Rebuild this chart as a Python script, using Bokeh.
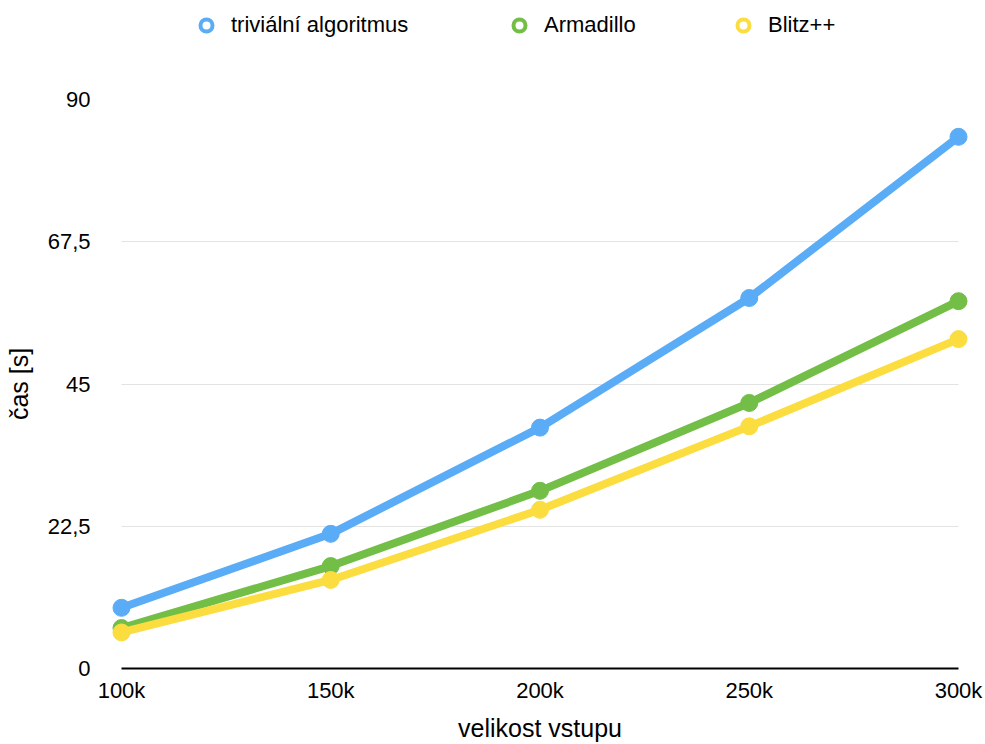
from bokeh.plotting import figure
from bokeh.layouts import column
from bokeh.models import Range1d, FixedTicker, Legend, LegendItem
from bokeh.embed import file_html
from bokeh.resources import INLINE

# input sizes (thousands) and measured run times in seconds
sizes = [100, 150, 200, 250, 300]
size_labels = ["100k", "150k", "200k", "250k", "300k"]
trivial = [9.6, 21.3, 38.1, 58.6, 84.1]
armadillo = [6.4, 16.2, 28.1, 42.0, 58.1]
blitz = [5.7, 14.0, 25.1, 38.3, 52.1]

series_names = ["triviální algoritmus", "Armadillo", "Blitz++"]
series_values = [trivial, armadillo, blitz]
colors = ["#5aacf6", "#73be47", "#fcdd40"]

y_ticks = [0, 22.5, 45, 67.5, 90]
y_tick_labels = ["0", "22,5", "45", "67,5", "90"]

FONT = "Liberation Sans"

# small margin on x so the end markers are not cut by the frame
pad = 12 * 200 / 837

p = figure(width=985, height=694, output_backend="svg", toolbar_location=None,
           x_range=Range1d(100 - pad, 300 + pad), y_range=Range1d(0, 90),
           min_border_left=109, min_border_right=15,
           min_border_top=49, min_border_bottom=76)
p.frame_align = False
p.outline_line_color = None
p.background_fill_color = "white"
p.border_fill_color = "white"

for name, vals, col in zip(series_names, series_values, colors):
    p.line(sizes, vals, line_color=col, line_width=8, line_join="round", line_cap="round")
    p.scatter(sizes, vals, size=17, fill_color=col, line_color=col)

# x axis
xa = p.xaxis[0]
xa.bounds = (100, 300)
xa.ticker = FixedTicker(ticks=sizes)
xa.major_label_overrides = {s: l for s, l in zip(sizes, size_labels)}
xa.axis_line_color = "black"
xa.axis_line_width = 2
xa.major_tick_line_color = None
xa.minor_tick_line_color = None
xa.major_label_standoff = 3
xa.major_label_text_font = FONT
xa.major_label_text_font_size = "22px"
xa.major_label_text_color = "black"
xa.axis_label = "velikost vstupu"
xa.axis_label_text_font = FONT
xa.axis_label_text_font_style = "normal"
xa.axis_label_text_font_size = "25px"
xa.axis_label_text_color = "black"
xa.axis_label_standoff = 8

# y axis
ya = p.yaxis[0]
ya.ticker = FixedTicker(ticks=y_ticks)
ya.major_label_overrides = {t: l for t, l in zip(y_ticks, y_tick_labels)}
ya.axis_line_color = None
ya.major_tick_line_color = None
ya.minor_tick_line_color = None
ya.major_label_standoff = 13
ya.major_label_text_font = FONT
ya.major_label_text_font_size = "22px"
ya.major_label_text_color = "black"
ya.axis_label = "čas [s]"
ya.axis_label_text_font = FONT
ya.axis_label_text_font_style = "normal"
ya.axis_label_text_font_size = "25px"
ya.axis_label_text_color = "black"
ya.axis_label_standoff = 12

p.xgrid.grid_line_color = None
p.ygrid.grid_line_color = "#e3e3e3"
p.ygrid.grid_line_width = 1.2
p.ygrid.cross_bounds = (100, 300)

# legend strip above the chart: hollow rings with series names
leg = figure(width=985, height=50, output_backend="svg", toolbar_location=None,
             x_range=Range1d(0, 1), y_range=Range1d(0, 1),
             min_border_left=0, min_border_right=0, min_border_top=0, min_border_bottom=0)
leg.frame_align = False
leg.axis.visible = False
leg.grid.visible = False
leg.outline_line_color = None
leg.background_fill_color = "white"
leg.border_fill_color = "white"

ring_x = [206, 519, 743]
for name, col, rx in zip(series_names, colors, ring_x):
    # legend swatch source: a single point kept outside the visible range
    marker = leg.scatter(x=[5], y=[5], size=12, fill_color="white", line_color=col, line_width=4)
    lg = Legend(items=[LegendItem(label=name, renderers=[marker])],
                location=(rx - 15, 10),
                orientation="horizontal",
                border_line_color=None, background_fill_alpha=0,
                glyph_width=30, glyph_height=30, label_standoff=10,
                label_height=26,
                padding=0, margin=0, spacing=0,
                label_text_font=FONT, label_text_font_size="22px",
                label_text_color="black")
    leg.add_layout(lg, "center")

layout = column(leg, p, spacing=0)
open("out.html", "w").write(file_html(layout, INLINE))
